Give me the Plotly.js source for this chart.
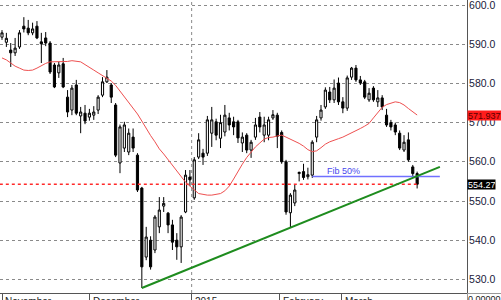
<!DOCTYPE html>
<html>
<head>
<meta charset="utf-8">
<script src="https://cdn.plot.ly/plotly-3.0.1.min.js"></script>
<style>html,body{margin:0;padding:0;background:#fff;}#chart{width:501px;height:300px;}</style>
</head>
<body>
<div id="chart"></div>
<script>
// ---- data ----
const openV = [591.8,590.5,588.5,587.8,589.3,594.6,594.1,592.9,594.6,590.6,591.6,590.3,584.7,582.7,585.0,576.5,573.2,579.6,571.7,572.4,571.4,571.9,573.2,577.0,580.4,579.6,574.5,559.7,563.5,562.5,566.3,561.7,553.3,535.7,540.0,537.5,543.4,548.7,546.9,543.9,540.0,538.3,547.2,556.1,550.8,561.2,562.2,562.2,567.3,570.2,566.0,567.6,571.2,570.2,570.2,564.8,566.8,563.0,566.3,571.4,566.8,566.8,571.2,571.9,567.5,560.0,547.0,549.5,557.0,557.5,556.2,556.6,566.3,571.2,574.0,577.8,575.8,580.1,575.3,573.7,581.6,583.9,580.9,580.4,575.8,578.8,575.3,576.3,571.9,570.0,569.4,567.3,563.0,565.6,558.7,557.0];
const highV = [593.6,592.9,590.3,591.6,593.6,596.9,596.2,595.5,595.9,592.9,593.1,590.8,585.2,585.5,586.5,578.3,579.6,580.9,574.0,574.5,573.5,574.2,577.0,581.6,583.4,580.1,575.0,569.5,570.2,568.5,568.5,562.2,553.6,543.4,541.0,546.4,551.0,551.0,547.2,545.2,541.8,546.4,557.9,557.9,561.2,567.3,563.3,571.7,574.0,571.0,572.0,574.5,572.5,571.5,570.7,567.5,567.3,565.6,571.2,572.7,571.5,571.5,573.2,572.5,568.0,560.5,552.0,554.2,557.5,559.5,558.5,565.5,571.7,574.5,579.0,579.1,581.0,581.5,576.5,582.0,584.2,584.7,581.9,580.9,578.8,579.3,578.3,577.0,573.5,570.7,570.0,568.0,566.8,567.5,559.2,557.5];
const lowV = [591.1,589.3,584.2,587.0,588.8,593.0,592.3,592.3,591.3,585.2,589.5,582.4,578.8,581.4,578.8,571.4,571.9,571.9,567.3,569.6,570.5,570.7,572.2,576.5,580.1,575.0,561.2,557.1,562.5,561.7,562.5,552.3,527.8,534.9,532.5,536.7,541.8,547.2,541.8,537.5,535.0,534.2,546.9,553.8,550.3,560.7,559.2,561.5,563.8,565.5,563.5,566.5,568.0,566.8,564.8,562.5,562.2,561.0,565.6,567.5,565.0,565.5,570.7,563.5,559.5,546.5,543.2,548.7,555.0,555.4,555.5,555.9,565.0,570.5,573.5,575.0,575.0,574.5,572.4,573.0,580.9,580.4,579.6,576.0,575.3,575.3,574.0,573.2,568.9,568.0,566.8,563.0,562.5,560.0,556.0,553.2];
const closeV = [592.9,591.5,587.8,589.0,592.9,593.9,592.9,593.9,591.6,590.1,590.3,582.9,579.1,584.7,579.1,572.7,578.8,572.4,572.7,570.4,572.4,572.7,576.5,580.4,581.6,576.5,561.7,568.9,569.4,567.3,563.5,552.8,533.2,540.8,533.2,545.9,547.7,549.4,543.9,539.5,538.3,545.9,556.6,555.4,560.5,565.6,561.2,570.7,570.7,566.8,570.0,571.9,569.4,568.9,566.1,566.3,563.0,565.0,569.4,568.9,569.4,570.7,572.0,566.5,560.0,547.2,551.5,552.8,557.3,556.0,556.7,565.0,570.7,573.2,578.3,575.8,578.8,575.3,573.7,581.4,583.9,580.9,580.1,576.5,577.5,575.8,576.3,574.0,569.4,568.9,567.6,563.5,565.0,560.5,557.0,554.27];
const maV = [586.5,586.0,585.2,584.4,583.9,583.4,583.3,583.4,583.9,584.6,585.1,585.5,585.5,585.5,585.5,585.6,585.8,585.7,585.5,584.8,584.2,583.4,582.7,582.0,581.4,580.6,579.5,578.1,576.7,575.3,573.7,572.2,570.4,568.5,566.7,565.1,563.3,562.0,560.6,559.2,557.7,556.3,554.8,553.8,552.8,551.9,551.7,551.5,551.5,551.7,551.9,552.6,553.8,555.6,557.7,559.4,561.1,562.5,563.8,564.8,565.8,566.2,566.3,566.6,566.8,566.3,565.8,565.3,564.7,564.0,563.1,562.6,562.8,563.6,564.5,565.1,565.6,565.9,566.3,566.8,567.5,568.0,568.5,569.1,569.8,571.2,572.7,573.9,574.6,575.0,575.3,575.1,574.5,573.6,572.8,571.937];
const trendX = [32, 100.2];
const trendY = [527.8, 558.7];
const fibX = [71, 100.2];
const fibY = [556.25, 556.25];
const fibLabel = "Fib 50%";
const lastPrice = 554.27;
const priceLineX = [-0.5, 95.3];
const yTicks = [530, 540, 550, 560, 570, 580, 590, 600];
const monthLabels = ["November", "December", "2015", "February", "March"];
const monthPos = [0, 20.1, 43.4, 63.6, 77.7];
const yearPos = 43.4;

const idx = openV.map((_, i) => i);
const FONT = "Liberation Sans, Arial, sans-serif";

const traces = [
  {type:'scatter', mode:'lines', x: priceLineX, y: priceLineX.map(() => lastPrice),
   line:{color:'#ff2a2a', width:1.5, dash:'dot'}, hoverinfo:'skip'},
  {type:'scatter', mode:'lines', x: idx, y: maV, line:{color:'#ee5050', width:1}, hoverinfo:'skip'},
  {type:'candlestick', x: idx, open: openV, high: highV, low: lowV, close: closeV,
   increasing:{line:{color:'#000', width:1}, fillcolor:'#ffffff'},
   decreasing:{line:{color:'#000', width:1}, fillcolor:'#000000'},
   whiskerwidth:0, hoverinfo:'skip'},
  {type:'scatter', mode:'lines', x: fibX, y: fibY, line:{color:'#7070ff', width:1.5}, hoverinfo:'skip'},
  {type:'scatter', mode:'lines', x: trendX, y: trendY, line:{color:'#1e8c1e', width:2}, hoverinfo:'skip'}
];

const annotations = [];
monthLabels.forEach((t, i) => {
  annotations.push({xref:'x', yref:'paper', x: monthPos[i], y: 0, xanchor:'left', yanchor:'top',
    xshift: 1, yshift: -1, text: t, showarrow:false, font:{family:FONT, size:10, color:'#222'}});
});
annotations.push({xref:'x', yref:'y', x: fibX[0] + 2.8, y: fibY[0], xanchor:'left', yanchor:'bottom',
  text: fibLabel, showarrow:false, font:{family:FONT, size:9, color:'#4848ee'}, yshift:-1});
annotations.push({xref:'paper', yref:'y', x: 1, y: maV[maV.length-1], xanchor:'left', yanchor:'middle',
  text: maV[maV.length-1].toFixed(3), showarrow:false, bgcolor:'#ff1c1c', borderpad:0, width:34, height:9,
  align:'left', font:{family:FONT, size:9, color:'#5a0000'}});
annotations.push({xref:'paper', yref:'y', x: 1, y: lastPrice, xanchor:'left', yanchor:'middle',
  text: lastPrice.toFixed(2), showarrow:false, bgcolor:'#000000', borderpad:0, width:27, height:9,
  align:'left', font:{family:FONT, size:9, color:'#ffffff'}});
annotations.push({xref:'paper', yref:'paper', x: 1, y: 0, xanchor:'left', yanchor:'top', xshift:0,
  text: '0.00000', showarrow:false, bordercolor:'#999', borderwidth:1, borderpad:0,
  font:{family:FONT, size:9, color:'#222'}});

const layout = {
  width: 501, height: 300,
  margin: {l:0, r:34, t:0, b:7, pad:0},
  paper_bgcolor:'#ffffff', plot_bgcolor:'#ffffff',
  showlegend:false,
  xaxis: {range:[-0.458, 106.41], showgrid:false, zeroline:false, showline:true, linecolor:'#555', linewidth:1,
          tickvals: monthPos, ticks:'outside', ticklen:8, tickcolor:'#555', showticklabels:false,
          rangeslider:{visible:false}, fixedrange:true},
  yaxis: {side:'right', range:[526.53, 601.28], tickvals: yTicks, tickformat:'.1f',
          showgrid:true, gridcolor:'#8a8a8a', griddash:'dot', gridwidth:1, zeroline:false,
          showline:true, linecolor:'#555', linewidth:1, ticks:'', ticklabelstandoff:-1,
          ticklabeloverflow:'allow',
          tickfont:{family:FONT, size:10.5, color:'#1a1a3a'}, fixedrange:true},
  shapes: [{type:'line', xref:'x', yref:'paper', x0: yearPos, x1: yearPos, y0:0, y1:1,
            line:{color:'#8a8a8a', width:1, dash:'dot'}, layer:'below'}],
  annotations: annotations
};

Plotly.newPlot('chart', traces, layout, {staticPlot:true, displayModeBar:false});
</script>
</body>
</html>
